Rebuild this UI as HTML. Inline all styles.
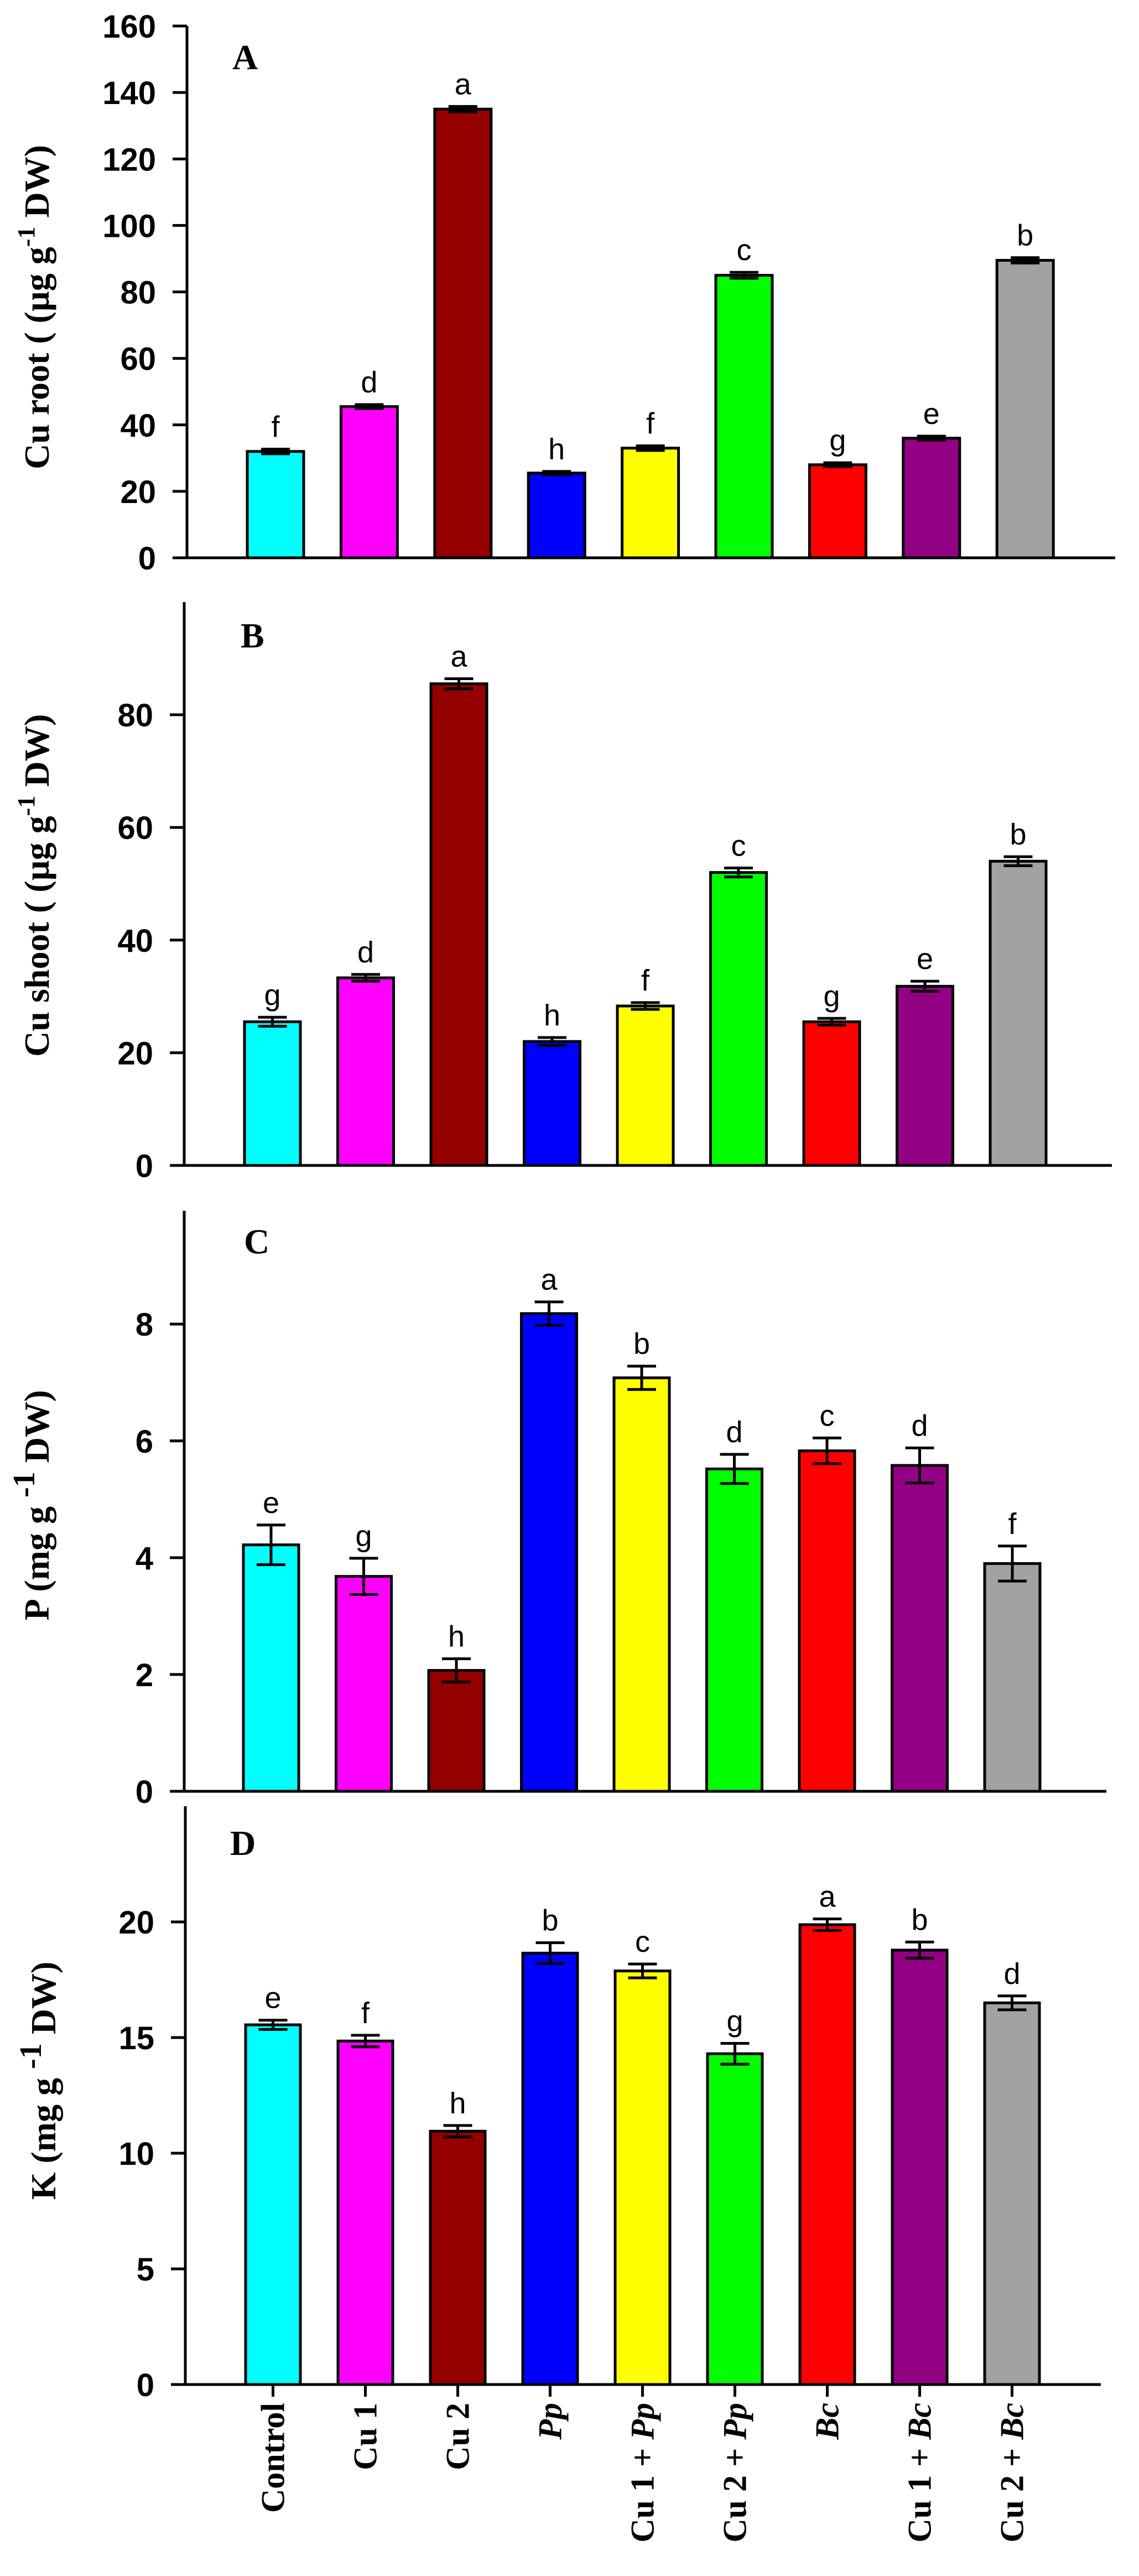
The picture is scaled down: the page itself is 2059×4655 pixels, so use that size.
<!DOCTYPE html>
<html><head><meta charset="utf-8"><style>
html,body{margin:0;padding:0;background:#fff;}
svg{display:block;}
.tick{font-family:"Liberation Sans",Arial,sans-serif;font-weight:bold;font-size:58px;}
.let{font-family:"Liberation Sans",Arial,sans-serif;font-size:54px;}
.ttl{font-family:"Liberation Serif","Times New Roman",serif;font-weight:bold;font-size:64px;}
.cat{font-family:"Liberation Serif","Times New Roman",serif;font-weight:bold;font-size:60px;}
</style></head><body>
<svg id="fig" width="2059" height="4655" viewBox="0 0 2059 4655" xmlns="http://www.w3.org/2000/svg"></svg>
<script>
const categories = ["Control","Cu 1","Cu 2","Pp","Cu 1 + Pp","Cu 2 + Pp","Bc","Cu 1 + Bc","Cu 2 + Bc"];
const colors = ["#00ffff","#ff00ff","#940000","#0000ff","#ffff00","#00ff00","#ff0000","#940084","#a2a2a2"];
const cuRootValues = [32, 45.5, 135, 25.5, 33, 85, 28, 36, 89.5];
const cuRootErrors = [0.7, 0.6, 0.8, 0.5, 0.7, 0.9, 0.6, 0.6, 0.8];
const cuRootLetters = ["f","d","a","h","f","c","g","e","b"];
const cuRootTicks = [0,20,40,60,80,100,120,140,160];
const cuShootValues = [25.5, 33.3, 85.5, 22, 28.3, 52, 25.5, 31.8, 54];
const cuShootErrors = [0.8, 0.6, 0.9, 0.7, 0.6, 0.8, 0.6, 0.9, 0.8];
const cuShootLetters = ["g","d","a","h","f","c","g","e","b"];
const cuShootTicks = [0,20,40,60,80];
const pValues = [4.22, 3.68, 2.07, 8.18, 7.08, 5.52, 5.83, 5.58, 3.9];
const pErrors = [0.34, 0.31, 0.2, 0.2, 0.2, 0.25, 0.22, 0.3, 0.3];
const pLetters = ["e","g","h","a","b","d","c","d","f"];
const pTicks = [0,2,4,6,8];
const kValues = [15.55, 14.85, 10.95, 18.65, 17.88, 14.3, 19.88, 18.78, 16.5];
const kErrors = [0.2, 0.25, 0.25, 0.45, 0.3, 0.45, 0.25, 0.35, 0.3];
const kLetters = ["e","f","h","b","c","g","a","b","d"];
const kTicks = [0,5,10,15,20];

const NS="http://www.w3.org/2000/svg";
const svg=document.getElementById('fig');
function mk(tag,attrs,parent){const e=document.createElementNS(NS,tag);for(const k in attrs)e.setAttribute(k,attrs[k]);(parent||svg).appendChild(e);return e;}

function panel(cfg){
  const g=mk('g',{});
  
  
  const y=v=>cfg.y0-(v-0)*(cfg.y0-cfg.yTop)/cfg.vmax;
  const xc=i=>cfg.x1+cfg.bw/2+i*cfg.step;
  // y axis
  const ax=mk('line',{x1:cfg.ax,y1:cfg.yTop,x2:cfg.ax,y2:cfg.y0+2,stroke:'#000','stroke-width':5},g);
  
  
  const xa=mk('line',{x1:cfg.ax-26,y1:cfg.y0,x2:cfg.xEnd,y2:cfg.y0,stroke:'#000','stroke-width':5},g);
  
  
  cfg.ticks.forEach(t=>{
    mk('line',{x1:cfg.ax-26,y1:y(t),x2:cfg.ax,y2:y(t),stroke:'#000','stroke-width':5},g);
    const tx=mk('text',{x:cfg.ax-56,y:y(t)+21,'text-anchor':'end',class:'tick'},g);
    tx.textContent=t;
    
    
  });
  cfg.values.forEach((v,i)=>{
    const b=mk('rect',{x:xc(i)-cfg.bw/2,y:y(v),width:cfg.bw,height:cfg.y0-y(v),fill:colors[i],stroke:'#000','stroke-width':5},g);
    
    
    const e=cfg.errors[i], cx=xc(i);
    const eg=mk('g',{stroke:'#000','stroke-width':5},g);
    
    
    mk('line',{x1:cx,y1:y(v+e),x2:cx,y2:y(v-e)},eg);
    mk('line',{x1:cx-26,y1:y(v+e),x2:cx+26,y2:y(v+e)},eg);
    mk('line',{x1:cx-26,y1:y(v-e),x2:cx+26,y2:y(v-e)},eg);
    const l=mk('text',{x:cx,y:y(v+e)-22,'text-anchor':'middle',class:'let'},g);
    l.textContent=cfg.letters[i];
    
    
    if(cfg.xticks){mk('line',{x1:cx,y1:cfg.y0,x2:cx,y2:cfg.y0+22,stroke:'#000','stroke-width':5},g);}
  });
  const pl=mk('text',{x:cfg.lx,y:cfg.ly,class:'ttl'},g);
  pl.textContent=cfg.label;
  
  
  const tt=mk('text',{x:0,y:0,'text-anchor':'middle',class:'ttl',transform:`translate(${cfg.tx},${cfg.ty}) rotate(-90)`},g);
  tt.innerHTML=cfg.title;
  
  
  return {xc};
}

panel({name:'panel-a-cu-root',ax:338,yTop:47,y0:1008,vmax:160,x1:447,bw:102,step:169.4,xEnd:2016,
  values:cuRootValues,errors:cuRootErrors,letters:cuRootLetters,ticks:cuRootTicks,label:'A',lx:420,ly:125,
  tx:88,ty:555,title:'Cu root ( (µg g<tspan dy="-26" font-size="44">-1</tspan><tspan dy="26"> DW)</tspan>'});
panel({name:'panel-b-cu-shoot',ax:333,yTop:1088,y0:2106,vmax:100,x1:442,bw:101,step:168.5,xEnd:2010,
  values:cuShootValues,errors:cuShootErrors,letters:cuShootLetters,ticks:cuShootTicks,label:'B',lx:435,ly:1170,
  tx:88,ty:1600,title:'Cu shoot ( (µg g<tspan dy="-26" font-size="44">-1</tspan><tspan dy="26"> DW)</tspan>'});
panel({name:'panel-c-phosphorus',ax:333,yTop:2188,y0:3237,vmax:9.94,x1:440,bw:100,step:167.5,xEnd:2000,
  values:pValues,errors:pErrors,letters:pLetters,ticks:pTicks,label:'C',lx:441,ly:2265,
  tx:88,ty:2720,title:'P (mg g <tspan dy="-26" font-size="56">-1</tspan><tspan dy="26"> DW)</tspan>'});
const pd=panel({name:'panel-d-potassium',ax:335,yTop:3264,y0:4309,vmax:25,x1:444,bw:99,step:167,xEnd:1990,xticks:true,
  values:kValues,errors:kErrors,letters:kLetters,ticks:kTicks,label:'D',lx:416,ly:3352,
  tx:100,ty:3760,title:'K (mg g <tspan dy="-26" font-size="56">-1</tspan><tspan dy="26"> DW)</tspan>'});

categories.forEach((c,i)=>{
  const cx=pd.xc(i);
  const t=mk('text',{x:0,y:0,'text-anchor':'end',class:'cat',transform:`translate(${cx+20},4342) rotate(-90)`});
  let html=c.replace(/(Pp|Bc)/,'<tspan font-style="italic">$1</tspan>');
  t.innerHTML=html;
  
  
});
</script>
</body></html>
